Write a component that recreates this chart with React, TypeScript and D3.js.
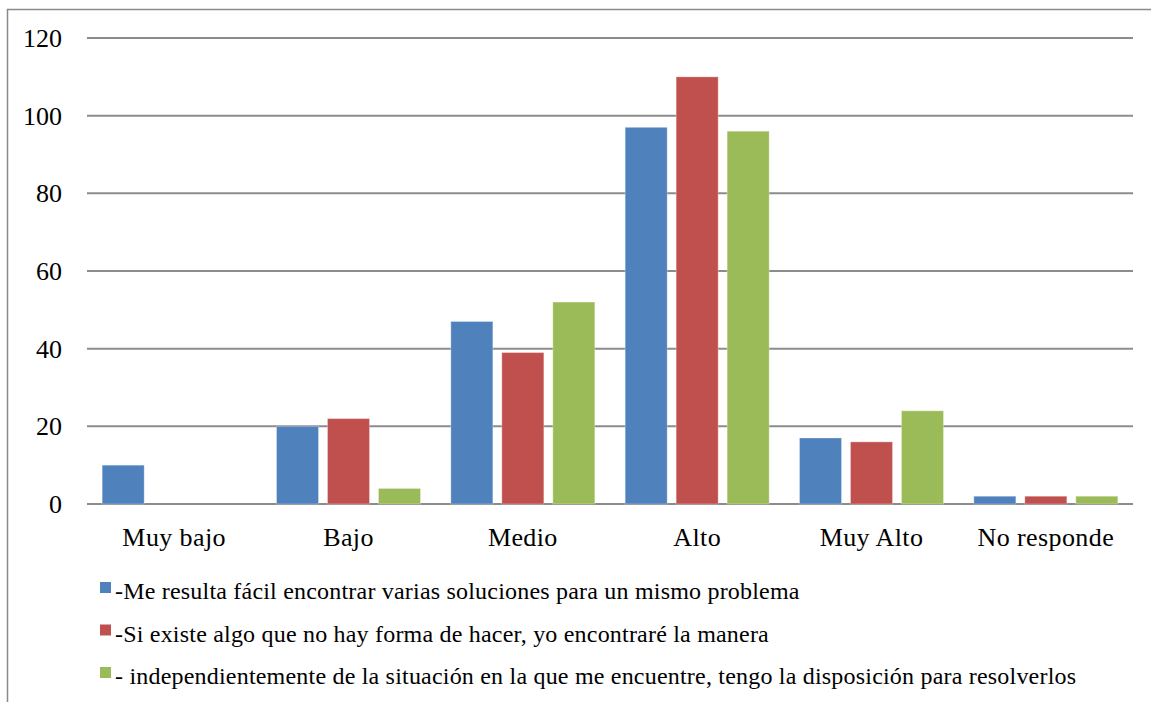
import * as d3 from "d3";
import {useEffect, useRef} from "react";

const categories = ["Muy bajo", "Bajo", "Medio", "Alto", "Muy Alto", "No responde"];
const seriesNames = [
    "-Me resulta fácil encontrar varias soluciones para un mismo problema",
    "-Si existe algo que no hay forma de hacer, yo encontraré la manera",
    "- independientemente de la situación en la que me encuentre, tengo la disposición para resolverlos",
];
const seriesA = [10, 20, 47, 97, 17, 2];
const seriesB = [0, 22, 39, 110, 16, 2];
const seriesC = [0, 4, 52, 96, 24, 2];
const yTicks = [0, 20, 40, 60, 80, 100, 120];
const colors = ["#4F81BD", "#C0504D", "#9BBB59"];

const W = 1151;
const H = 702;
const margin = {top: 38, right: 18, bottom: 198, left: 87};
const FONT = "Liberation Serif, Times New Roman, serif";

export default function App() {
    const ref = useRef<SVGSVGElement>(null);

    useEffect(() => {
        const values = [seriesA, seriesB, seriesC];
        const svg = d3.select(ref.current).html("");

        // outer chart border (right/bottom edges fall outside the picture)
        svg.append("rect")
            .attr("x", 7.5).attr("y", 9.5)
            .attr("width", W + 20).attr("height", H + 20)
            .attr("fill", "white")
            .attr("stroke", "#8a8a8a")
            .attr("stroke-width", 1.5);

        const x0 = d3.scaleBand()
            .domain(categories)
            .range([margin.left, W - margin.right])
            .paddingInner(0.174)
            .paddingOuter(0.087);

        const x1 = d3.scaleBand()
            .domain(["0", "1", "2"])
            .range([0, x0.bandwidth()])
            .paddingInner(0.176)
            .paddingOuter(0);

        const y = d3.scaleLinear()
            .domain([0, 120])
            .range([H - margin.bottom, margin.top]);

        // gridlines
        svg.append("g")
            .selectAll("line")
            .data(yTicks)
            .join("line")
            .attr("x1", margin.left)
            .attr("x2", W - margin.right)
            .attr("y1", d => y(d))
            .attr("y2", d => y(d))
            .attr("stroke", "#8c8c8c")
            .attr("stroke-width", 2);

        // y labels
        svg.append("g")
            .selectAll("text")
            .data(yTicks)
            .join("text")
            .attr("x", 62)
            .attr("y", d => y(d) + 9)
            .attr("text-anchor", "end")
            .attr("font-family", FONT)
            .attr("font-size", 26)
            .attr("fill", "#000")
            .text(d => d);

        // bars
        values.forEach((vals, si) => {
            svg.append("g")
                .selectAll("rect")
                .data(vals.map((v, i) => ({cat: categories[i], v})).filter(d => d.v > 0))
                .join("rect")
                .attr("x", d => x0(d.cat)! + x1(String(si))!)
                .attr("y", d => y(d.v))
                .attr("width", x1.bandwidth())
                .attr("height", d => y(0) - y(d.v))
                .attr("fill", colors[si])
                .attr("stroke", "rgba(255,255,255,0.3)")
                .attr("stroke-width", 1);
        });

        // x labels
        svg.append("g")
            .selectAll("text")
            .data(categories)
            .join("text")
            .attr("x", d => x0(d)! + x0.bandwidth() / 2)
            .attr("y", 546)
            .attr("text-anchor", "middle")
            .attr("font-family", FONT)
            .attr("font-size", 26)
            .attr("letter-spacing", 0.4)
            .attr("fill", "#000")
            .text(d => d);

        // legend
        const legend = svg.append("g")
            .selectAll("g")
            .data(seriesNames)
            .join("g")
            .attr("transform", (_, i) => `translate(100,${582 + i * 42.5})`);

        legend.append("rect")
            .attr("width", 11)
            .attr("height", 11)
            .attr("fill", (_, i) => colors[i]);

        legend.append("text")
            .attr("x", 15)
            .attr("y", 17)
            .attr("font-family", FONT)
            .attr("font-size", 24)
            .attr("letter-spacing", 0.2)
            .attr("fill", "#000")
            .text(d => d);
    }, []);

    return (
        <svg ref={ref} width={W} height={H}
             style={{position: "absolute", left: 0, top: 0, background: "white"}}/>
    );
}
